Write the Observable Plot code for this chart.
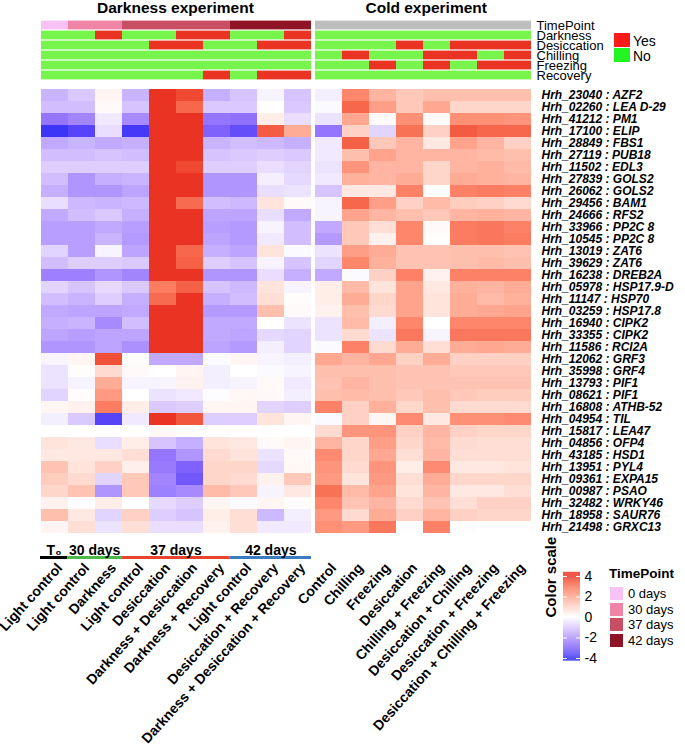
<!DOCTYPE html>
<html><head><meta charset="utf-8">
<script src="https://cdn.jsdelivr.net/npm/d3@7"></script>
<script src="https://cdn.jsdelivr.net/npm/@observablehq/plot@0.6"></script>
<style>
body{margin:0;background:#fff;font-family:"Liberation Sans",Arial,sans-serif;}
#fig{position:relative;width:685px;height:755px;overflow:hidden;background:#fff;}
.t{position:absolute;white-space:nowrap;color:#000;}
.sw{position:absolute;}
</style></head><body><div id="fig"></div>
<script>
const FONT = '"Liberation Sans", Arial, sans-serif';

// ---- column annotations ----
const darkConditions = ["Light control","Light control","Darkness","Light control","Desiccation","Darkness + Desiccation","Darkness + Recovery","Light control","Desiccation + Recovery","Darkness + Desiccation + Recovery"];
const darkTimePoints = ["0 days","30 days","30 days","37 days","37 days","37 days","37 days","42 days","42 days","42 days"];
const coldConditions = ["Control","Chilling","Freezing","Desiccation","Chilling + Freezing","Desiccation + Chilling","Desiccation + Freezing","Desiccation + Chilling + Freezing"];
const annotationRows = ["TimePoint","Darkness","Desiccation","Chilling","Freezing","Recovery"];
const darkDarkness    = [0,0,1,0,0,1,1,0,0,1];
const darkDesiccation = [0,0,0,0,1,1,0,0,1,1];
const darkChilling    = [0,0,0,0,0,0,0,0,0,0];
const darkFreezing    = [0,0,0,0,0,0,0,0,0,0];
const darkRecovery    = [0,0,0,0,0,0,1,0,1,1];
const coldDarkness    = [0,0,0,0,0,0,0,0];
const coldDesiccation = [0,0,0,1,0,1,1,1];
const coldChilling    = [0,1,0,0,1,1,0,1];
const coldFreezing    = [0,0,1,0,1,0,1,1];
const coldRecovery    = [0,0,0,0,0,0,0,0];
const timePointLevels = ["0 days","30 days","37 days","42 days"];
const timePointColors = ["#F8C2F6","#F084A6","#C84E64","#8E1426"];
const coldTimeColor = "#BEBEBE";
const yesColor = "#EA3323", noColor = "#77F54C";

// bottom group labels of the darkness experiment
const groupLabels = ["T\u2080","30 days","37 days","42 days"];
const groupColors = ["#000000","#4CB848","#E8432F","#3B7CC0"];

// ---- genes ----
const geneIds = ["Hrh_23040","Hrh_02260","Hrh_41212","Hrh_17100","Hrh_28849","Hrh_27119","Hrh_11502","Hrh_27839","Hrh_26062","Hrh_29456","Hrh_24666","Hrh_33966","Hrh_10545","Hrh_13019","Hrh_39629","Hrh_16238","Hrh_05978","Hrh_11147","Hrh_03259","Hrh_16940","Hrh_33355","Hrh_11586","Hrh_12062","Hrh_35998","Hrh_13793","Hrh_08621","Hrh_16808","Hrh_04954","Hrh_15817","Hrh_04856","Hrh_43185","Hrh_13951","Hrh_09361","Hrh_00987","Hrh_32482","Hrh_18958","Hrh_21498"];
const geneNames = ["AZF2","LEA D-29","PM1","ELIP","FBS1","PUB18","EDL3","GOLS2","GOLS2","BAM1","RFS2","PP2C 8","PP2C 8","ZAT6","ZAT6","DREB2A","HSP17.9-D","HSP70","HSP17.8","CIPK2","CIPK2","RCI2A","GRF3","GRF4","PIF1","PIF1","ATHB-52","TIL","LEA47","OFP4","HSD1","PYL4","EXPA15","PSAO","WRKY46","SAUR76","GRXC13"];

// ---- z-scores (rows = genes, columns = conditions) ----
const darkValues = [
[-1.4,-1.0,0.2,-1.4,4,3.7,-1.5,-1.1,-0.2,-1.1],
[-1.2,-1.2,0.1,-1.1,4,3.2,-1.0,-1.0,0.0,-1.0],
[-2.6,-2.3,-0.4,-2.2,4,4,-2.6,-2.7,0.4,-0.6],
[-3.9,-3.6,-0.6,-3.8,4,4,-3.0,-3.4,3.4,1.8],
[-1.6,-1.4,-1.6,-1.5,4,4,-1.4,-1.2,-1.3,-1.5],
[-1.2,-1.2,-1.1,-1.2,4,4,-1.1,-1.0,-0.9,-1.0],
[-0.9,-0.9,-0.9,-0.9,4,3.7,-0.9,-0.9,-0.6,-0.8],
[-1.2,-2.0,-1.5,-1.4,4,4,-2.0,-2.0,-0.3,-0.7],
[-1.5,-2.0,-2.0,-1.7,4,4,-2.0,-2.0,-0.6,-0.5],
[-0.6,-1.3,-1.4,-1.3,4,3.1,-1.2,-1.3,0.6,0.1],
[-1.6,-1.2,-1.0,-1.5,4,4,-1.7,-1.7,-0.6,-1.6],
[-1.8,-1.8,-1.6,-1.8,4,4,-1.8,-1.9,-0.2,-1.2],
[-1.8,-1.8,-1.4,-1.9,4,4,-1.7,-1.9,-0.4,-1.2],
[-0.8,-1.8,-0.2,-1.7,4,3.2,-1.5,-1.7,0.6,-0.1],
[-1.2,-0.9,-0.9,-1.0,4,3.3,-0.9,-1.1,-0.2,-1.1],
[-2.4,-2.4,-2.0,-2.3,4,4,-2.0,-2.0,-0.6,-1.5],
[-0.8,-1.1,-0.7,-1.0,2.8,3.3,-1.1,-1.3,0.6,-0.2],
[-1.2,-1.4,-0.9,-1.5,3.1,4,-1.5,-1.2,0.7,0.05],
[-1.6,-1.7,-1.7,-1.6,4,4,-1.9,-1.9,1.4,0.1],
[-1.5,-1.4,-2.2,-1.2,4,4,-1.6,-1.6,0.0,-0.5],
[-1.7,-1.8,-1.7,-1.7,4,4,-1.6,-1.7,-0.7,-0.8],
[-2.0,-2.0,-1.7,-2.1,4,4,-1.7,-1.9,-0.3,-0.8],
[-0.2,0.2,3.6,0.05,-1.6,-1.6,-0.1,0.2,-0.2,-0.3],
[-0.5,0.05,0.8,0.1,0.0,0.2,-0.3,0.0,-0.1,-0.2],
[-0.5,-0.2,1.8,-0.2,-0.2,0.3,-0.3,-0.2,0.1,-0.4],
[-0.8,0.05,2.2,0.0,-0.5,-0.4,-0.05,0.15,0.1,-0.3],
[0.2,0.3,2.8,0.4,-1.0,-0.9,0.2,0.2,-0.8,-0.9],
[-0.3,-1.0,-3.6,-0.4,4,3.5,-0.9,-0.9,0.6,0.2],
[0.0,0.0,0.0,0.0,0.15,0.0,0.0,0.0,0.0,0.0],
[0.6,0.5,-0.6,0.4,-1.1,-1.5,0.6,0.5,0.1,0.2],
[0.5,0.5,0.5,0.7,-2.6,-2.0,0.8,0.6,-0.5,0.1],
[1.3,0.6,1.0,0.35,-2.5,-3.0,0.9,0.9,-0.7,0.15],
[1.1,0.8,-0.8,1.2,-2.3,-3.2,0.9,0.8,0.3,1.2],
[0.9,1.3,-2.0,1.2,-2.4,-2.2,1.5,1.2,-0.2,0.5],
[0.3,-0.05,0.4,0.0,-0.7,-0.9,0.2,-0.1,0.2,0.05],
[1.4,0.5,-0.8,1.0,-0.9,-1.1,0.4,0.7,-1.3,-0.3],
[0.2,0.7,-0.5,0.7,-0.6,-0.6,0.3,0.7,-0.4,-0.4]
];
const coldValues = [
[-0.3,2.6,1.6,1.2,1.4,1.4,1.4,1.4],
[-0.1,3.2,2.1,1.2,1.9,0.9,0.9,0.9],
[-0.5,1.9,0.1,2.4,0.1,2.4,2.4,2.3],
[-2.6,1.0,-0.8,3.0,1.0,3.4,3.2,3.2],
[-0.4,3.3,1.2,1.6,0.5,2.0,1.6,1.0],
[-0.4,1.4,2.0,1.6,1.6,1.6,1.5,1.4],
[-0.5,2.3,1.6,1.6,0.9,1.6,1.7,1.5],
[-0.4,1.7,1.6,1.8,0.9,1.8,1.7,1.6],
[-1.1,0.5,0.5,2.7,0.0,2.7,2.8,2.7],
[-0.2,3.2,2.1,1.0,1.5,1.1,1.0,0.8],
[-0.2,2.0,1.6,1.4,1.2,1.6,1.7,1.6],
[-1.6,1.2,0.7,2.6,0.1,2.8,2.9,2.7],
[-1.9,1.2,0.3,2.6,0.05,2.8,2.9,2.8],
[-0.5,2.1,1.8,1.3,1.3,1.4,1.4,1.3],
[-0.8,2.6,1.7,1.3,1.3,1.4,1.5,1.4],
[-1.6,-0.1,1.0,2.7,0.3,2.7,2.7,2.7],
[0.4,1.5,0.6,2.0,0.5,1.7,1.6,1.8],
[0.4,1.8,0.9,2.0,0.6,1.8,1.5,1.7],
[0.3,1.4,0.8,2.0,0.6,1.8,1.9,2.0],
[-0.5,1.5,-0.3,2.6,0.0,2.6,2.6,2.6],
[-0.5,0.8,-0.5,2.9,-0.2,2.9,2.9,2.9],
[-0.1,2.7,0.8,1.8,0.7,1.8,1.9,1.8],
[1.9,1.6,1.9,1.0,1.8,1.0,1.0,1.0],
[1.4,1.4,1.4,1.3,1.3,1.2,1.2,1.2],
[1.3,1.6,1.4,1.3,1.3,1.3,1.3,1.3],
[1.4,1.5,1.4,1.2,1.4,1.2,1.1,1.1],
[2.7,1.0,1.7,0.9,1.4,0.8,0.8,0.8],
[-0.1,1.0,0.2,2.5,0.5,2.4,2.4,2.5],
[0.8,2.3,2.3,1.0,1.6,1.0,0.9,0.9],
[1.6,0.9,2.1,0.9,1.5,0.8,0.7,0.7],
[2.5,0.9,1.9,0.7,1.6,0.7,0.7,0.7],
[2.3,0.8,2.3,0.4,2.5,0.5,0.5,0.6],
[2.2,0.6,2.2,0.7,1.8,0.9,0.9,0.9],
[3.0,1.5,2.0,0.6,1.6,0.5,0.5,0.7],
[2.6,1.3,1.6,0.8,1.3,0.7,1.0,1.0],
[2.2,0.8,1.8,1.0,1.6,1.0,0.9,0.9],
[2.4,2.2,2.9,-0.05,2.7,-0.05,0.0,0.0]
];
const colorTicks = [-4,-2,0,2,4];
const heatColors = ["#2F2FF7","#FFFFFF","#EA3323"];

// ---- derived tables ----
const fig = document.getElementById("fig");
function place(node, left, top){ node.style.position="absolute"; node.style.left=left+"px"; node.style.top=top+"px"; fig.appendChild(node); return node; }
function label(text, left, top, size, weight){ const d=document.createElement("div"); d.className="t"; d.textContent=text; d.style.left=left+"px"; d.style.top=top+"px"; d.style.fontSize=size+"px"; d.style.lineHeight=size+"px"; d.style.fontWeight=weight||"normal"; fig.appendChild(d); return d; }

const darkKeys = darkConditions.map((c,i)=>"d"+i);
const coldKeys = coldConditions.map((c,i)=>"c"+i);
const darkFlags = {Darkness:darkDarkness, Desiccation:darkDesiccation, Chilling:darkChilling, Freezing:darkFreezing, Recovery:darkRecovery};
const coldFlags = {Darkness:coldDarkness, Desiccation:coldDesiccation, Chilling:coldChilling, Freezing:coldFreezing, Recovery:coldRecovery};
const tpColor = tp => timePointColors[timePointLevels.indexOf(tp)];

const annDark = [], annCold = [];
annotationRows.forEach(row => {
  darkKeys.forEach((k,i)=>annDark.push({row, col:k, fill: row==="TimePoint" ? tpColor(darkTimePoints[i]) : (darkFlags[row][i] ? yesColor : noColor)}));
  coldKeys.forEach((k,i)=>annCold.push({row, col:k, fill: row==="TimePoint" ? coldTimeColor : (coldFlags[row][i] ? yesColor : noColor)}));
});
const darkCells = [], coldCells = [];
geneIds.forEach((g,r)=>{
  darkValues[r].forEach((v,c)=>darkCells.push({gene:g, col:darkKeys[c], v}));
  coldValues[r].forEach((v,c)=>coldCells.push({gene:g, col:coldKeys[c], v}));
});
const groups = [];
darkTimePoints.forEach((tp,i)=>{
  const last = groups[groups.length-1];
  if (last && last.tp===tp) last.end = i+1;
  else groups.push({tp, start:i, end:i+1});
});
groups.forEach((g,i)=>{ g.label = groupLabels[i]; g.color = groupColors[i]; });

const heatInterp = d3.piecewise(d3.interpolateLab, heatColors);
const colorOpt = {type:"linear", domain:[-4,4], interpolate: heatInterp, clamp:true};
const svgStyle = {background:"transparent", overflow:"visible", fontFamily: FONT, color:"#000"};

const X0 = 40, XL = 311, XR0 = 314, XR1 = 532, Y0 = 86, YH = 449;
const ROT = -48, LAB_DX = 8, LAB_DY = 33, LAB_FS = 14;

// ---- annotation bars ----
place(Plot.plot({
  width: XL, height: 82, marginLeft: X0, marginRight: 0, marginTop: 18, marginBottom: 0, style: svgStyle,
  x:{domain:darkKeys, padding:0, axis:null}, y:{domain:annotationRows, padding:0, axis:null},
  color:{type:"identity"},
  marks:[Plot.cell(annDark,{x:"col", y:"row", fill:"fill", insetTop:0.6, insetBottom:0.6})]
}), 0, 0);

place(Plot.plot({
  width: (XR1-XR0)+140, height: 82, marginLeft: 0, marginRight: 140, marginTop: 18, marginBottom: 0, style: svgStyle,
  x:{domain:coldKeys, padding:0, axis:null}, y:{domain:annotationRows, padding:0, axis:null},
  color:{type:"identity"},
  marks:[
    Plot.cell(annCold,{x:"col", y:"row", fill:"fill", insetTop:0.6, insetBottom:0.6}),
    Plot.text(annotationRows,{y:d=>d, text:d=>d, frameAnchor:"right", textAnchor:"start", dx:4, fontSize:13, fill:"#000"})
  ]
}), XR0, 0);

// ---- heatmaps ----
place(Plot.plot({
  width: XL, height: YH, marginLeft: X0, marginRight: 0, marginTop: 0, marginBottom: 0, style: svgStyle,
  x:{domain:darkKeys, padding:0, axis:null}, y:{domain:geneIds, padding:0, axis:null},
  color: colorOpt,
  marks:[
    Plot.cell(darkCells,{x:"col", y:"gene", fill:"v"}),
    Plot.text(darkKeys,{x:d=>d, text:(d,i)=>darkConditions[i], frameAnchor:"bottom", rotate:ROT, textAnchor:"end", dx:LAB_DX, dy:LAB_DY, fontSize:LAB_FS, fontWeight:"bold", fill:"#000"})
  ]
}), 0, Y0);

place(Plot.plot({
  width: (XR1-XR0)+150, height: YH, marginLeft: 0, marginRight: 150, marginTop: 0, marginBottom: 0, style: svgStyle,
  x:{domain:coldKeys, padding:0, axis:null}, y:{domain:geneIds, padding:0, axis:null},
  color: colorOpt,
  marks:[
    Plot.cell(coldCells,{x:"col", y:"gene", fill:"v"}),
    Plot.text(geneIds,{y:d=>d, text:(d,i)=>d+" : "+geneNames[i], frameAnchor:"right", textAnchor:"start", dx:9, fontSize:12, fontWeight:"bold", fontStyle:"italic", fill:"#000"}),
    Plot.text(coldKeys,{x:d=>d, text:(d,i)=>coldConditions[i], frameAnchor:"bottom", rotate:ROT, textAnchor:"end", dx:LAB_DX, dy:LAB_DY, fontSize:LAB_FS, fontWeight:"bold", fill:"#000"})
  ]
}), XR0, Y0);

// ---- time point strip under darkness experiment ----
place(Plot.plot({
  width: XL, height: 3, marginLeft: X0, marginRight: 0, marginTop: 0, marginBottom: 0, style: svgStyle,
  x:{domain:[0, darkTimePoints.length], axis:null}, y:{axis:null},
  color:{type:"identity"},
  marks:[
    Plot.rect(groups,{x1:"start", x2:"end", fill:"color"}),
    Plot.text(groups,{x:d=>(d.start+d.end)/2, text:"label", frameAnchor:"top", dy:-11, fontSize:14, fontWeight:"bold", fill:"#000"})
  ]
}), 0, 556);

// ---- titles ----
const t1 = label("Darkness experiment", 0, 0, 15.5, "bold"); t1.style.left = (175.5 - t1.offsetWidth/2)+"px";
const t2 = label("Cold experiment", 0, 0, 15.5, "bold"); t2.style.left = (426 - t2.offsetWidth/2)+"px";

// ---- Yes / No legend ----
[["Yes","#FF1A1A",33],["No","#22F522",48]].forEach(([txt,col,top])=>{
  const s=document.createElement("div"); s.className="sw"; Object.assign(s.style,{left:"614px", top:top+"px", width:"16px", height:"14px", background:col}); fig.appendChild(s);
  label(txt, 633, top+0.5, 14, "normal");
});

// ---- colour bar ----
const steps = d3.range(-4.25, 4.4, 0.05);
place(Plot.plot({
  width: 70, height: 110, marginLeft: 23, marginRight: 30, marginTop: 16, marginBottom: 12, style: svgStyle,
  x:{axis:null}, y:{domain:[-4,4], axis:null},
  color: colorOpt,
  marks:[
    Plot.rect(steps,{y1:d=>d, y2:d=>d+0.06, fill:d=>d}),
    Plot.tickY(colorTicks,{y:d=>d, stroke:"white", strokeWidth:1, insetRight:13}),
    Plot.tickY(colorTicks,{y:d=>d, stroke:"white", strokeWidth:1, insetLeft:13}),
    Plot.text(colorTicks,{y:d=>d, text:d=>String(d), frameAnchor:"right", textAnchor:"start", dx:4, fontSize:14, fill:"#000"}),
    Plot.text(["Color scale"],{frameAnchor:"left", rotate:-90, dx:-12, fontSize:15, fontWeight:"bold", fill:"#000"})
  ]
}), 540, 560);

// ---- TimePoint legend ----
label("TimePoint", 609, 567, 13.5, "bold");
timePointLevels.forEach((tp,i)=>{
  const top = 586 + i*15.5;
  const s=document.createElement("div"); s.className="sw"; Object.assign(s.style,{left:"609px", top:top+"px", width:"15px", height:"15px", background:timePointColors[i], boxSizing:"border-box", border:"0.5px solid #fff"}); fig.appendChild(s);
  label(tp, 628, top+1, 13, "normal");
});
</script></body></html>
